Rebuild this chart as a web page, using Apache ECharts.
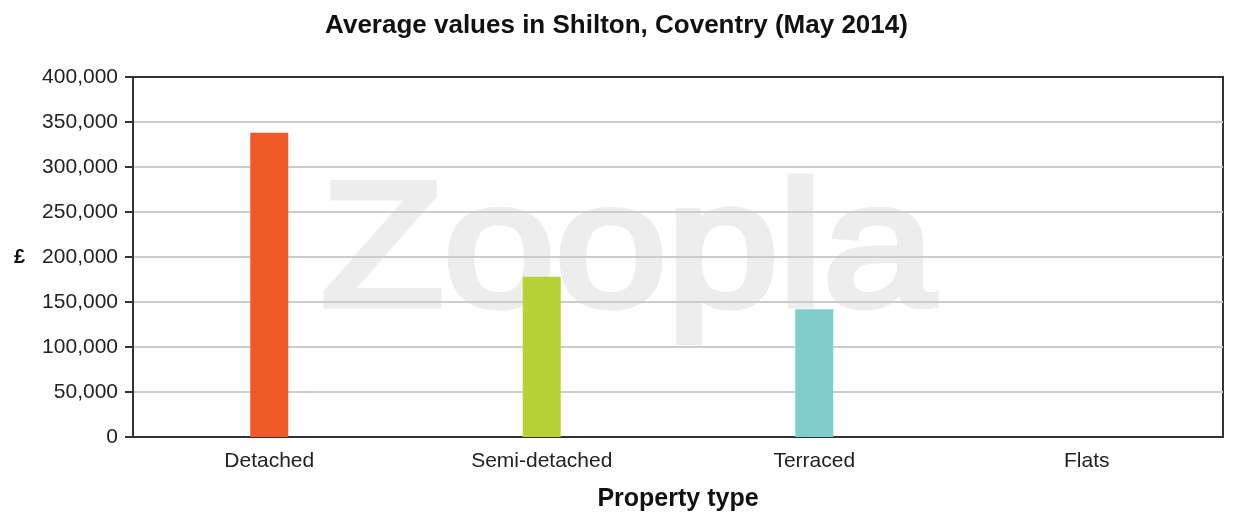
<!DOCTYPE html>
<html>
<head>
<meta charset="utf-8">
<script src="https://cdn.jsdelivr.net/npm/echarts@6/dist/echarts.min.js"></script>
<style>
  html, body { margin: 0; padding: 0; background: #fff; }
  #main { width: 1233px; height: 513px; }
</style>
</head>
<body>
<div id="main"></div>
<script>
var categories = ["Detached", "Semi-detached", "Terraced", "Flats"];
var values = [338000, 178000, 142000, 0];
var barColors = ["#f05a28", "#b5d334", "#7fcdcd", "#999999"];

void (function() {
  var chart = echarts.init(document.getElementById("main"));
  var font = "Liberation Sans, Arial, sans-serif";

  var option = {
    backgroundColor: "#fff",
    textStyle: { fontFamily: font },
    title: {
      text: "Average values in Shilton, Coventry (May 2014)",
      left: "center",
      top: 8,
      textStyle: { fontSize: 26, fontWeight: "bold", color: "#111", fontFamily: font }
    },
    // faint watermark behind the plot
    graphic: [
      {
        type: "text",
        z: -10,
        left: 317,
        top: 165,
        scaleX: 1.14,
        style: {
          text: "Zoopla",
          font: "176px " + font,
          fill: "#ededed",
          stroke: "#ededed",
          lineWidth: 7,
          lineJoin: "round"
        }
      }
    ],
    grid: {
      left: 133,
      right: 10,
      top: 77,
      bottom: 76,
      outerBoundsMode: "none",
      show: true,
      borderColor: "#333",
      borderWidth: 2,
      backgroundColor: "transparent"
    },
    xAxis: [
      {
        type: "category",
        data: categories,
        name: "Property type",
        nameLocation: "middle",
        nameGap: 50,
        nameTextStyle: { fontSize: 25, fontWeight: "bold", color: "#111" },
        axisLine: { lineStyle: { color: "#333", width: 2 } },
        axisTick: { alignWithLabel: true, length: 7, lineStyle: { color: "#333", width: 2 } },
        axisLabel: { fontSize: 21, color: "#222", margin: 14 }
      },
      {
        type: "category",
        data: categories,
        position: "top",
        axisLine: { show: true, lineStyle: { color: "#333", width: 2 } },
        axisTick: { show: false },
        axisLabel: { show: false },
        splitLine: { show: false }
      }
    ],
    yAxis: {
      type: "value",
      min: 0,
      max: 400000,
      interval: 50000,
      name: "£",
      nameLocation: "middle",
      nameRotate: 0,
      nameGap: 108,
      nameTextStyle: { fontSize: 20, fontWeight: "bold", color: "#111" },
      axisLine: { show: true, lineStyle: { color: "#333", width: 2 } },
      axisTick: { show: true, length: 8, lineStyle: { color: "#333", width: 2 } },
      axisLabel: {
        fontSize: 21,
        color: "#222",
        margin: 15,
        formatter: function(v) { return v.toLocaleString("en-GB"); }
      },
      splitLine: { lineStyle: { color: "#cccccc", width: 2 } }
    },
    series: [
      {
        type: "bar",
        barWidth: 38,
        data: values.map(function(v, i) {
          return { value: v, itemStyle: { color: barColors[i] } };
        })
      }
    ]
  };

  chart.setOption(option);
})();
</script>
</body>
</html>
